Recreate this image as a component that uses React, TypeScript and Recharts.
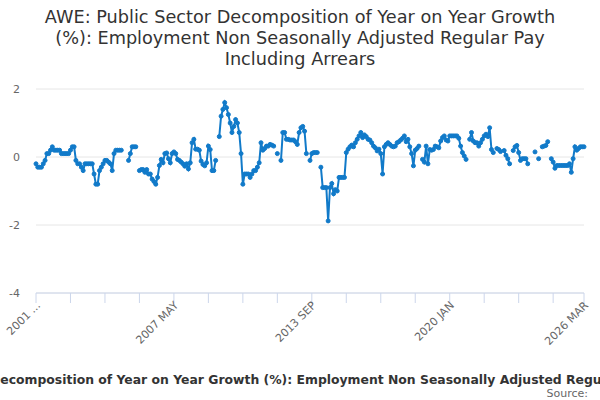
import React from "react";
import { LineChart, Line, XAxis, YAxis, CartesianGrid } from "recharts";

const START_YEAR = 2001;
const MONTHS = ["JAN", "FEB", "MAR", "APR", "MAY", "JUN", "JUL", "AUG", "SEP", "OCT", "NOV", "DEC"];

// monthly values, one row per year, null = no observation
const values2001to2005 = [
  -0.2, -0.3, -0.3, -0.3, -0.2, -0.1, 0.1, 0.1, 0.2, 0.3, 0.2, 0.2,
  0.2, 0.2, 0.1, 0.1, 0.1, 0.1, 0.1, 0.2, 0.3, 0.3, -0.1, -0.2,
  -0.2, -0.3, -0.4, -0.2, -0.2, -0.2, -0.2, -0.2, -0.5, -0.8, -0.8, -0.4,
  -0.3, -0.2, -0.1, -0.1, -0.15, -0.2, -0.4, 0.1, 0.2, 0.2, 0.2, 0.2,
  null, null, null, -0.1, 0.1, 0.3, 0.3, 0.3, null, -0.4, -0.37, -0.37,
];
const values2006to2010 = [
  -0.45, -0.37, -0.5, -0.5, -0.65, -0.72, -0.8, -0.6, -0.25, -0.07, -0.17, 0.1,
  0.12, -0.05, -0.17, 0.1, 0.15, 0.1, -0.07, -0.1, -0.15, -0.2, -0.27, -0.2,
  -0.35, -0.17, 0.42, 0.52, 0.23, 0.23, 0.2, -0.12, -0.22, -0.26, -0.17, 0.32,
  0.22, -0.4, -0.4, -0.1, null, 0.6, 1.2, 1.4, 1.6, 1.45, 1.25, 1.0,
  0.72, 0.9, 1.1, 1.0, 0.72, 0.1, -0.8, -0.5, -0.5, -0.5, -0.6, -0.5,
];
const values2011to2015 = [
  -0.4, -0.4, -0.3, -0.17, 0.42, 0.2, 0.25, 0.32, 0.32, 0.37, 0.35, 0.32,
  null, 0.1, null, -0.1, 0.72, 0.72, 0.52, 0.52, 0.5, 0.5, 0.5, 0.45,
  0.37, 0.72, 0.86, 0.9, 0.76, 0.1, null, -0.1, 0.1, 0.13, 0.13, 0.13,
  null, -0.3, -0.9, -0.9, -0.9, -1.88, -0.9, -0.78, -1.08, -0.96, -1.0, -0.6,
  -0.6, -0.6, -0.6, 0.13, 0.23, 0.3, 0.35, 0.3, 0.42, 0.52, 0.62, 0.72,
];
const values2016to2020 = [
  0.57, 0.65, 0.6, 0.52, 0.5, 0.42, 0.32, 0.27, 0.18, 0.23, 0.1, -0.5,
  0.3, 0.37, 0.42, 0.37, 0.32, 0.3, 0.32, 0.42, 0.45, 0.5, 0.55, 0.62,
  0.45, 0.52, 0.3, 0.1, -0.26, 0.2, 0.25, 0.32, null, -0.07, -0.15, 0.32,
  -0.2, 0.22, 0.2, 0.22, 0.32, 0.3, 0.27, 0.47, 0.57, 0.62, 0.5, 0.47,
  0.62, 0.62, 0.62, 0.62, 0.62, 0.55, 0.32, 0.13, 0.03, -0.07, null, 0.52,
];
const values2021to2026 = [
  0.72, 0.47, 0.42, 0.42, 0.32, 0.42, 0.52, 0.62, 0.67, 0.6, 0.86, 0.22,
  0.13, null, 0.25, 0.22, 0.16, null, 0.19, 0.05, -0.05, -0.2, null, 0.19,
  0.3, 0.34, 0.13, -0.1, -0.05, -0.05, -0.05, -0.2, null, null, null, 0.15,
  null, -0.05, null, 0.3, 0.32, 0.34, 0.45, null, -0.05, -0.15, -0.33, -0.25,
  -0.25, -0.25, -0.25, -0.25, -0.25, -0.25, -0.2, -0.45, -0.05, 0.3, 0.2, 0.25,
  0.3, 0.3, 0.3,
];

const TICK_POSITIONS = [0, 19, 38, 57, 76, 95, 114, 133, 152, 171, 190, 209, 228, 247, 266, 285, 302];
const LABELLED_TICKS = [0, 76, 152, 228, 302];
const TICK_LABELS = ["2001 ...", "2007 MAY", "2013 SEP", "2020 JAN", "2026 MAR"];
const Y_TICKS = [-4, -2, 0, 2];

const TITLE_LINES = [
  "AWE: Public Sector Decomposition of Year on Year Growth",
  "(%): Employment Non Seasonally Adjusted Regular Pay",
  "Including Arrears",
];
const SERIES_NAME =
  "AWE: Public Sector Decomposition of Year on Year Growth (%): Employment Non Seasonally Adjusted Regular Pay Including Arrears";

const allValues = [
  ...values2001to2005,
  ...values2006to2010,
  ...values2011to2015,
  ...values2016to2020,
  ...values2021to2026,
];

const data = allValues.map((v, i) => ({
  i,
  month: `${START_YEAR + Math.floor(i / 12)} ${MONTHS[i % 12]}`,
  value: v,
}));

const FONT = "'DejaVu Sans', sans-serif";
const LINE_COLOR = "#117ac9";

const XTick = ({ x, y, payload }: any) => {
  const k = LABELLED_TICKS.indexOf(payload.value);
  if (k < 0) return <g />;
  const ax = x + 5;
  const ay = y + 3;
  return (
    <text
      x={ax}
      y={ay}
      textAnchor="end"
      transform={`rotate(-45 ${ax} ${ay})`}
      fontSize={11}
      fill="#666666"
      fontFamily={FONT}
    >
      {TICK_LABELS[k]}
    </text>
  );
};

export default function App() {
  return (
    <div
      style={{
        position: "absolute",
        left: 0,
        top: 0,
        width: 600,
        height: 400,
        overflow: "hidden",
        background: "#ffffff",
        fontFamily: FONT,
      }}
    >
      <div
        style={{
          position: "absolute",
          top: 7,
          left: 0,
          width: 600,
          textAlign: "center",
          fontSize: 17.7,
          lineHeight: "21px",
          color: "#333333",
        }}
      >
        {TITLE_LINES.map((t) => (
          <div key={t}>{t}</div>
        ))}
      </div>

      <div style={{ position: "absolute", left: 0, top: 0 }}>
        <LineChart
          width={600}
          height={400}
          data={data}
          margin={{ top: 89, right: 16, bottom: 47, left: 8 }}
        >
          <CartesianGrid vertical={false} stroke="#e6e6e6" />
          <XAxis
            type="number"
            dataKey="i"
            domain={[0, 302]}
            ticks={TICK_POSITIONS}
            interval={0}
            height={60}
            tickSize={10}
            tickMargin={0}
            axisLine={{ stroke: "#ccd6eb" }}
            tickLine={{ stroke: "#ccd6eb" }}
            tick={XTick}
          />
          <YAxis
            domain={[-4, 2]}
            ticks={Y_TICKS}
            width={28}
            axisLine={false}
            tickLine={false}
            tickSize={0}
            tickMargin={16}
            tick={{ fontSize: 11, fill: "#666666", fontFamily: FONT }}
          />
          <Line
            type="linear"
            dataKey="value"
            name={SERIES_NAME}
            stroke={LINE_COLOR}
            strokeWidth={2}
            dot={{ r: 2, fill: LINE_COLOR, stroke: LINE_COLOR, strokeWidth: 1 }}
            connectNulls={false}
            isAnimationActive={false}
          />
        </LineChart>
      </div>

      <div
        style={{
          position: "absolute",
          top: 374,
          left: "calc(50% + 14px)",
          transform: "translateX(-50%)",
          whiteSpace: "nowrap",
          fontSize: 12.4,
          fontWeight: "bold",
          lineHeight: "12px",
          color: "#333333",
        }}
      >
        {SERIES_NAME}
      </div>
      <div
        style={{
          position: "absolute",
          top: 388,
          right: 12,
          fontSize: 11,
          lineHeight: "12px",
          color: "#666666",
        }}
      >
        Source:
      </div>
    </div>
  );
}
